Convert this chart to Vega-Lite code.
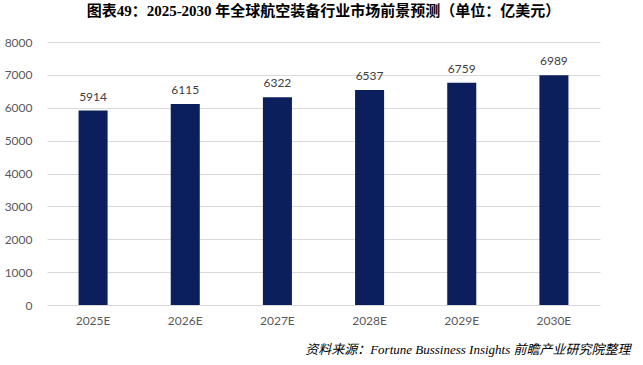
{
  "$schema": "https://vega.github.io/schema/vega-lite/v6.json",
  "width": 553,
  "height": 263,
  "autosize": {"type": "none"},
  "padding": {"left": 47, "top": 42, "right": 43, "bottom": 60},
  "background": "white",
  "title": {
    "text": "图表49：2025-2030 年全球航空装备行业市场前景预测（单位：亿美元）",
    "font": "Liberation Serif, Noto Sans CJK SC",
    "fontSize": 15,
    "fontWeight": "bold",
    "color": "#000000",
    "anchor": "middle",
    "offset": 17
  },
  "data": {
    "values": [
      {"year": "2025E", "value": 5914},
      {"year": "2026E", "value": 6115},
      {"year": "2027E", "value": 6322},
      {"year": "2028E", "value": 6537},
      {"year": "2029E", "value": 6759},
      {"year": "2030E", "value": 6989}
    ]
  },
  "config": {
    "view": {"stroke": null},
    "font": "Lato",
    "axis": {"labelFont": "Lato", "labelFontSize": 12, "labelColor": "#595959"}
  },
  "encoding": {
    "x": {
      "field": "year",
      "type": "nominal",
      "sort": null,
      "scale": {"paddingInner": 0.685, "paddingOuter": 0.3425},
      "axis": {
        "title": "资料来源：Fortune Bussiness Insights  前瞻产业研究院整理",
        "titleFont": "Liberation Serif, Noto Sans CJK SC",
        "titleFontStyle": "italic",
        "titleFontWeight": "normal",
        "titleFontSize": 13,
        "titleColor": "#000000",
        "titleAnchor": "end",
        "titleAlign": "right",
        "titleX": 583,
        "titlePadding": 17,
        "labelAngle": 0,
        "labelPadding": 10,
        "domain": false,
        "ticks": false
      }
    },
    "y": {
      "field": "value",
      "type": "quantitative",
      "scale": {"domain": [0, 8000], "nice": false},
      "axis": {
        "title": null,
        "values": [0, 1000, 2000, 3000, 4000, 5000, 6000, 7000, 8000],
        "format": "d",
        "labelOverlap": false,
        "domain": false,
        "ticks": false,
        "labelPadding": 15,
        "gridColor": "#D9D9D9",
        "gridWidth": 1
      }
    }
  },
  "layer": [
    {
      "mark": {"type": "bar", "color": "#0A1F5C"}
    },
    {
      "mark": {"type": "text", "dy": -14, "font": "Lato", "fontSize": 12, "color": "#404040"},
      "encoding": {
        "text": {"field": "value", "type": "quantitative", "format": "d"}
      }
    }
  ]
}
